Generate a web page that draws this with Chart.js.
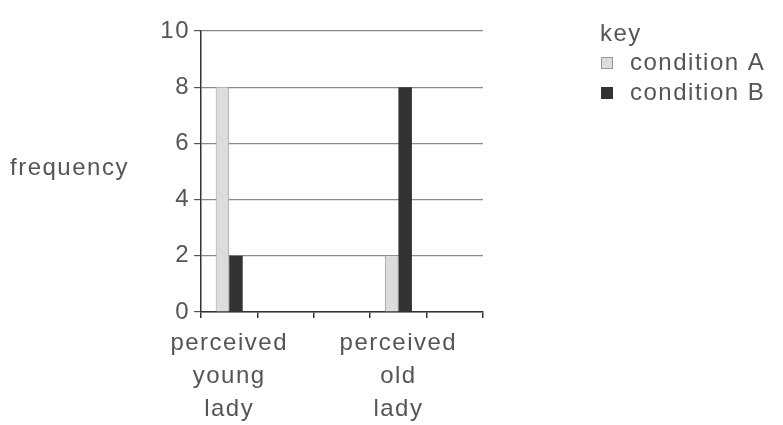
<!DOCTYPE html>
<html>
<head>
<meta charset="utf-8">
<script src="https://cdn.jsdelivr.net/npm/chart.js@4/dist/chart.umd.min.js"></script>
<style>
  html, body { margin: 0; padding: 0; background: #fff; }
  #wrap { position: relative; width: 783px; height: 425px; }
</style>
</head>
<body>
<div id="wrap"><canvas id="chart" width="783" height="425"></canvas></div>
<script>
// data
const categories = [['perceived', 'young', 'lady'], '', '', ['perceived', 'old', 'lady'], ''];
const conditionA = [8, null, null, 2, null];
const conditionB = [2, null, null, 8, null];
const yTicks = [0, 2, 4, 6, 8, 10];

const textColor = '#555';
const fontFamily = '"Liberation Sans", Arial, sans-serif';
const fontSize = 24;
const spacing = '1.5px';

// canvas letter spacing so text is as wide as in the scan
const spacingPlugin = {
    id: 'spacing',
    beforeLayout(chart) { chart.ctx.letterSpacing = spacing; },
    beforeDraw(chart) { chart.ctx.letterSpacing = spacing; }
};

const extrasPlugin = {
    id: 'extras',
    afterDraw(chart) {
        const ctx = chart.ctx;
        ctx.save();
        ctx.letterSpacing = spacing;
        ctx.fillStyle = textColor;
        ctx.font = fontSize + 'px ' + fontFamily;
        ctx.textBaseline = 'middle';
        ctx.textAlign = 'left';

        // y axis title, horizontal
        ctx.fillText('frequency', 10, 168);

        // key
        ctx.fillText('key', 600, 34);
        chart.data.datasets.forEach((ds, i) => {
            const y = 63 + i * 30;
            ctx.fillStyle = ds.backgroundColor;
            ctx.fillRect(601, y - 6, 12, 12);
            ctx.strokeStyle = ds.borderColor;
            ctx.lineWidth = 1;
            ctx.strokeRect(601.5, y - 5.5, 11, 11);
            ctx.fillStyle = textColor;
            ctx.fillText(ds.label, 630, y);
        });
        ctx.restore();
    }
};

new Chart(document.getElementById('chart'), {
    type: 'bar',
    data: {
        labels: categories,
        datasets: [
            { label: 'condition A', data: conditionA, backgroundColor: '#dcdcdc', borderColor: '#9a9a9a', borderWidth: { left: 1, right: 1 } },
            { label: 'condition B', data: conditionB, backgroundColor: '#333333', borderColor: '#333333', borderWidth: 0 }
        ]
    },
    options: {
        responsive: false,
        animation: false,
        layout: { padding: { left: 0, right: 300, top: 31, bottom: 0 } },
        datasets: { bar: { categoryPercentage: 0.48, barPercentage: 1, skipNull: false } },
        plugins: { legend: { display: false }, tooltip: { enabled: false } },
        scales: {
            x: {
                grid: { offset: true, drawOnChartArea: false, drawTicks: true, tickLength: 6, color: '#333', lineWidth: 1.5 },
                border: { color: '#333', width: 1.5 },
                ticks: { color: textColor, font: { family: fontFamily, size: fontSize, lineHeight: 1.37 }, padding: 9, maxRotation: 0, autoSkip: false },
                afterFit(scale) { scale.height = 113; }
            },
            y: {
                min: 0,
                max: 10,
                afterBuildTicks(scale) { scale.ticks = yTicks.map(v => ({ value: v })); },
                grid: { color: '#8a8a8a', lineWidth: 1.2, tickLength: 7, tickColor: '#555' },
                border: { color: '#333', width: 1.5 },
                ticks: { color: textColor, font: { family: fontFamily, size: fontSize }, padding: 4 },
                afterFit(scale) { scale.width = 201; }
            }
        }
    },
    plugins: [spacingPlugin, extrasPlugin]
});
</script>
</body>
</html>
